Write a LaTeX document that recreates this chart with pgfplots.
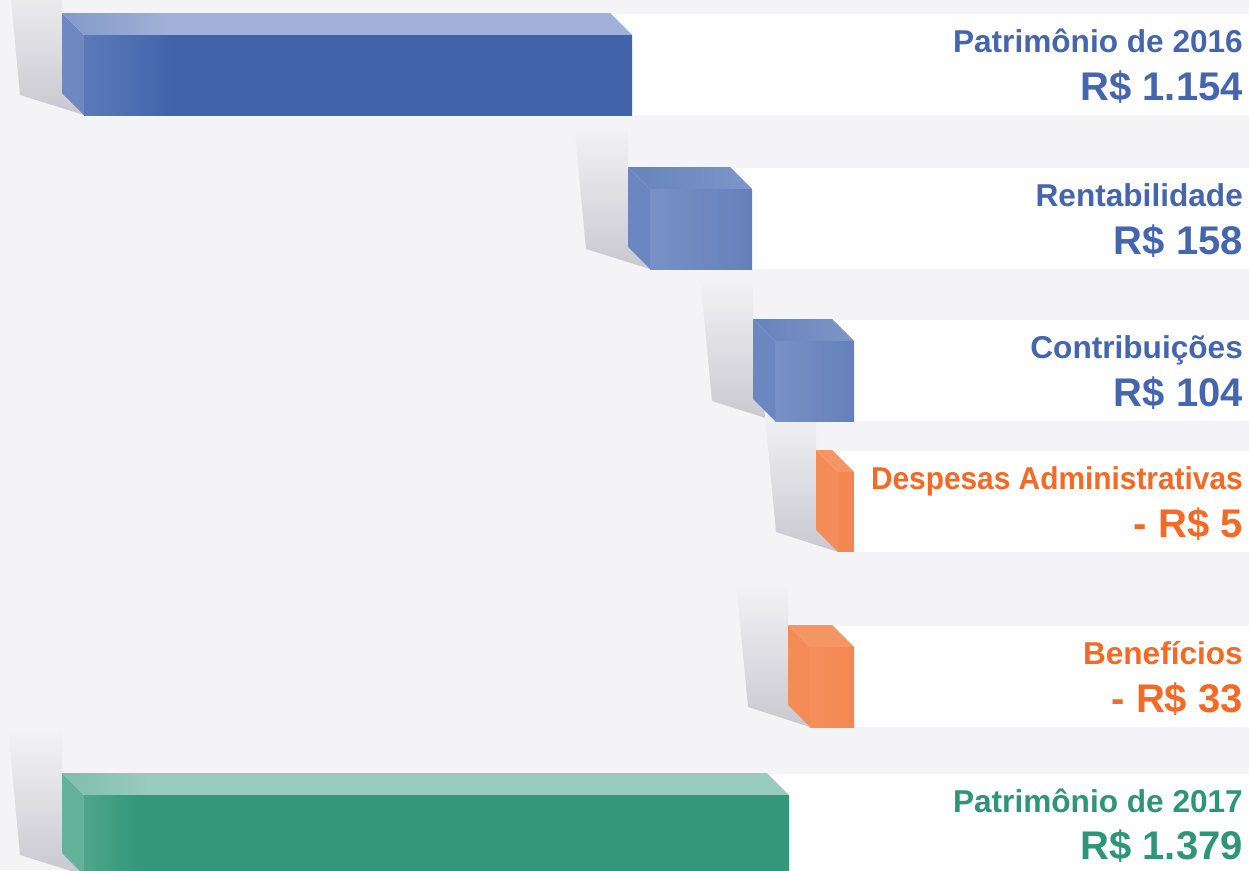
\documentclass[border=0pt]{standalone}
\usepackage{pgfplots}
\pgfplotsset{compat=1.18}
\usepackage{fontspec}
\setmainfont{Liberation Sans}
\definecolor{bg}{HTML}{F4F4F6}
\definecolor{shd}{HTML}{C9C8D0}
\definecolor{txtblue}{HTML}{4565AD}
\definecolor{txtorange}{HTML}{F26A25}
\definecolor{txtgreen}{HTML}{2E9577}
\definecolor{b1front}{HTML}{4263AC}
\definecolor{b1frontL}{HTML}{5C7AB9}
\definecolor{b1top}{HTML}{A0B0D6}
\definecolor{b1topL}{HTML}{8399C8}
\definecolor{b1side}{HTML}{6E89C1}
\definecolor{b2frontL}{HTML}{7891C5}
\definecolor{b2frontR}{HTML}{6580BA}
\definecolor{b2topL}{HTML}{6883BD}
\definecolor{b2topR}{HTML}{7D96C8}
\definecolor{b2side}{HTML}{6C87BF}
\definecolor{ofront}{HTML}{F4874F}
\definecolor{ofrontL}{HTML}{F5905D}
\definecolor{otop}{HTML}{F49565}
\definecolor{oside}{HTML}{F58B57}
\definecolor{gfront}{HTML}{33977A}
\definecolor{gfrontL}{HTML}{4EA689}
\definecolor{gtop}{HTML}{99CBBB}
\definecolor{gtopL}{HTML}{7EBFA9}
\definecolor{gside}{HTML}{64B29A}
% horizontal shadings: path spans 25bp..75bp
\pgfdeclarehorizontalshading{bAfront}{100bp}{color(0bp)=(b1frontL); color(25bp)=(b1frontL); color(33bp)=(b1front); color(100bp)=(b1front)}
\pgfdeclarehorizontalshading{bAtop}{100bp}{color(0bp)=(b1topL); color(25bp)=(b1topL); color(34bp)=(b1top); color(100bp)=(b1top)}
\pgfdeclarehorizontalshading{bGfront}{100bp}{color(0bp)=(gfrontL); color(25bp)=(gfrontL); color(29bp)=(gfront); color(100bp)=(gfront)}
\pgfdeclarehorizontalshading{bGtop}{100bp}{color(0bp)=(gtopL); color(25bp)=(gtopL); color(31bp)=(gtop); color(100bp)=(gtop)}
\begin{document}
\begin{tikzpicture}
\begin{axis}[
  width=1249pt, height=870pt, scale only axis,
  xmin=0, xmax=1249, ymin=0, ymax=870, y dir=reverse,
  hide axis, clip=true,
]
% background
\addplot[fill=bg, draw=none] coordinates {(0,0) (1249,0) (1249,870) (0,870)} -- cycle;
% shadows
\addplot[draw=none, top color=bg, bottom color=shd] coordinates {(8,-32) (20,95) (84,115) (84,35) (62,13) (62,-32)} -- cycle;
\addplot[draw=none, top color=bg, bottom color=shd] coordinates {(574,122) (586,249) (650,269) (650,189) (628,167) (628,122)} -- cycle;
\addplot[draw=none, top color=bg, bottom color=shd] coordinates {(700,274) (712,401) (775,421) (775,341) (753,319) (753,274)} -- cycle;
\addplot[draw=none, top color=bg, bottom color=shd] coordinates {(764,405) (776,532) (838,552) (838,472) (816,450) (816,405)} -- cycle;
\addplot[draw=none, top color=bg, bottom color=shd] coordinates {(736,580) (748,707) (810,727) (810,647) (788,625) (788,580)} -- cycle;
\addplot[draw=none, top color=bg, bottom color=shd] coordinates {(8,728) (20,855) (84,875) (84,795) (62,773) (62,728)} -- cycle;
% white strips
\addplot[fill=white, draw=none] coordinates {(90,14) (1249,14) (1249,115) (90,115)} -- cycle;
\addplot[fill=white, draw=none] coordinates {(656,168) (1249,168) (1249,269) (656,269)} -- cycle;
\addplot[fill=white, draw=none] coordinates {(780,320) (1249,320) (1249,421) (780,421)} -- cycle;
\addplot[fill=white, draw=none] coordinates {(840,451) (1249,451) (1249,552) (840,552)} -- cycle;
\addplot[fill=white, draw=none] coordinates {(815,626) (1249,626) (1249,727) (815,727)} -- cycle;
\addplot[fill=white, draw=none] coordinates {(90,774) (1249,774) (1249,870) (90,870)} -- cycle;
% bar 1: Patrimonio 2016
\addplot[fill=b1side, draw=none] coordinates {(62,13) (84,35) (84,115) (62,93)} -- cycle;
\addplot[draw=none, shading=bAtop] coordinates {(62,13) (610,13) (632,35) (84,35)} -- cycle;
\addplot[draw=none, shading=bAfront] coordinates {(84,35) (632,35) (632,115) (84,115)} -- cycle;
% bar 2: Rentabilidade
\addplot[fill=b2side, draw=none] coordinates {(628,167) (650,189) (650,269) (628,247)} -- cycle;
\addplot[draw=none, left color=b2topL, right color=b2topR] coordinates {(628,167) (730,167) (752,189) (650,189)} -- cycle;
\addplot[draw=none, left color=b2frontL, right color=b2frontR] coordinates {(650,189) (752,189) (752,269) (650,269)} -- cycle;
% bar 3: Contribuicoes
\addplot[fill=b2side, draw=none] coordinates {(753,319) (775,341) (775,421) (753,399)} -- cycle;
\addplot[draw=none, left color=b2topL, right color=b2topR] coordinates {(753,319) (832,319) (854,341) (775,341)} -- cycle;
\addplot[draw=none, left color=b2frontL, right color=b2frontR] coordinates {(775,341) (854,341) (854,421) (775,421)} -- cycle;
% bar 4: Despesas
\addplot[fill=oside, draw=none] coordinates {(816,450) (838,472) (838,552) (816,530)} -- cycle;
\addplot[fill=otop, draw=none] coordinates {(816,450) (832,450) (854,472) (838,472)} -- cycle;
\addplot[fill=ofront, draw=none] coordinates {(838,472) (854,472) (854,552) (838,552)} -- cycle;
% bar 5: Beneficios
\addplot[fill=oside, draw=none] coordinates {(788,625) (810,647) (810,727) (788,705)} -- cycle;
\addplot[fill=otop, draw=none] coordinates {(788,625) (832,625) (854,647) (810,647)} -- cycle;
\addplot[draw=none, left color=ofrontL, right color=ofront] coordinates {(810,647) (854,647) (854,727) (810,727)} -- cycle;
% bar 6: Patrimonio 2017
\addplot[fill=gside, draw=none] coordinates {(62,773) (84,795) (84,875) (62,853)} -- cycle;
\addplot[draw=none, shading=bGtop] coordinates {(62,773) (767,773) (789,795) (84,795)} -- cycle;
\addplot[draw=none, shading=bGfront] coordinates {(84,795) (789,795) (789,875) (84,875)} -- cycle;
% labels
\def\nm{\fontsize{31.6}{31.6}\selectfont\bfseries}
\def\vl{\fontsize{40}{40}\selectfont\bfseries}
\node[anchor=base east, inner sep=0pt, text=txtblue] at (axis cs:1243,52) {\nm Patrimônio de 2016};
\node[anchor=base east, inner sep=0pt, text=txtblue] at (axis cs:1243,100) {\vl R\$ 1.154};
\node[anchor=base east, inner sep=0pt, text=txtblue] at (axis cs:1243,206) {\nm Rentabilidade};
\node[anchor=base east, inner sep=0pt, text=txtblue] at (axis cs:1243,254) {\vl R\$ 158};
\node[anchor=base east, inner sep=0pt, text=txtblue] at (axis cs:1243,358) {\nm Contribuições};
\node[anchor=base east, inner sep=0pt, text=txtblue] at (axis cs:1243,406) {\vl R\$ 104};
\node[anchor=base east, inner sep=0pt, text=txtorange] at (axis cs:1243,489) {\scalebox{0.945}[1]{\nm Despesas Administrativas}};
\node[anchor=base east, inner sep=0pt, text=txtorange] at (axis cs:1243,537) {\vl - R\$ 5};
\node[anchor=base east, inner sep=0pt, text=txtorange] at (axis cs:1243,664) {\nm Benefícios};
\node[anchor=base east, inner sep=0pt, text=txtorange] at (axis cs:1243,712) {\vl - R\$ 33};
\node[anchor=base east, inner sep=0pt, text=txtgreen] at (axis cs:1243,812) {\nm Patrimônio de 2017};
\node[anchor=base east, inner sep=0pt, text=txtgreen] at (axis cs:1243,859) {\vl R\$ 1.379};
\end{axis}
\end{tikzpicture}
\end{document}
